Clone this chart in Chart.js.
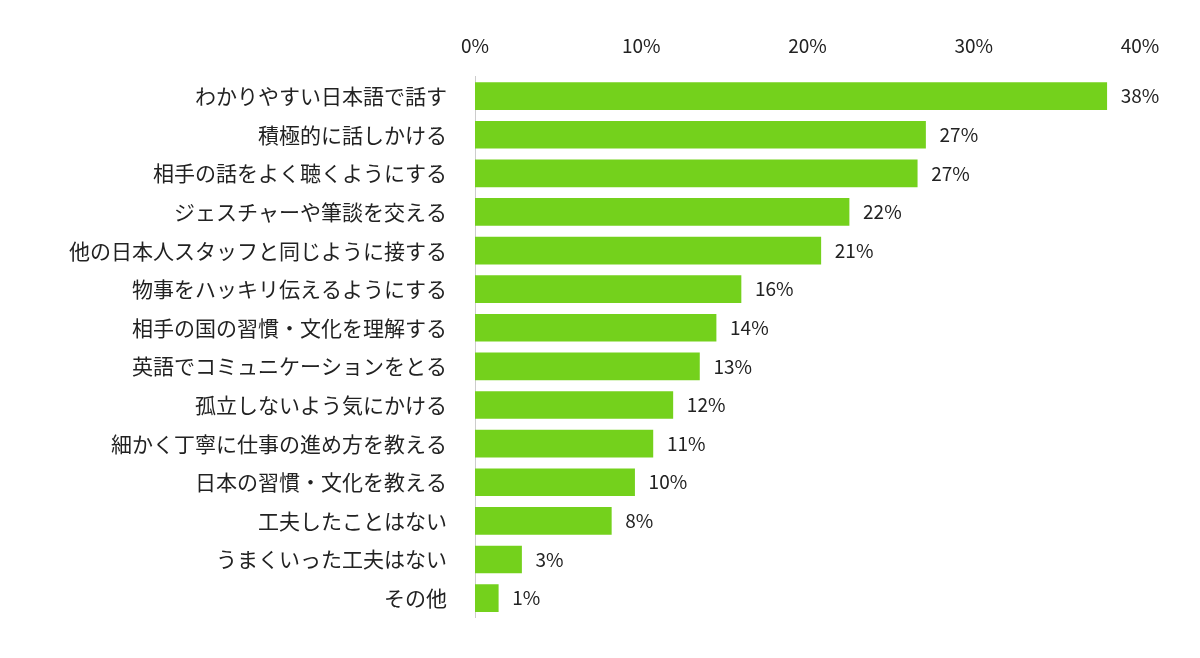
<!DOCTYPE html>
<html><head><meta charset="utf-8">
<script src="https://cdn.jsdelivr.net/npm/chart.js@4"></script>
<style>html,body{margin:0;background:#fff}#wrap{width:1200px;height:658px}</style>
</head><body><div id="wrap"><canvas id="c"></canvas></div>
<script>
const categories = ['わかりやすい日本語で話す','積極的に話しかける','相手の話をよく聴くようにする','ジェスチャーや筆談を交える','他の日本人スタッフと同じように接する','物事をハッキリ伝えるようにする','相手の国の習慣・文化を理解する','英語でコミュニケーションをとる','孤立しないよう気にかける','細かく丁寧に仕事の進め方を教える','日本の習慣・文化を教える','工夫したことはない','うまくいった工夫はない','その他'];
const values = [38.0, 27.1, 26.6, 22.5, 20.8, 16.0, 14.5, 13.5, 11.9, 10.7, 9.6, 8.2, 2.8, 1.4];
const valueLabels = ['38%','27%','27%','22%','21%','16%','14%','13%','12%','11%','10%','8%','3%','1%'];
const FONT = '"Noto Sans CJK JP", sans-serif';

const barLabels = {
    id: 'barLabels',
    afterDatasetsDraw(chart) {
        const ctx = chart.ctx;
        ctx.save();
        ctx.font = '19px ' + FONT;
        ctx.fillStyle = '#222';
        ctx.textBaseline = 'middle';
        chart.getDatasetMeta(0).data.forEach((bar, i) => {
            ctx.fillText(valueLabels[i], bar.x + 14, bar.y);
        });
        ctx.restore();
    }
};

new Chart(document.getElementById('c'), {
    type: 'bar',
    data: {
        labels: categories,
        datasets: [{
            data: values,
            backgroundColor: '#74d11c',
            barThickness: 27
        }]
    },
    options: {
        indexAxis: 'y',
        responsive: true,
        maintainAspectRatio: false,
        animation: false,
        layout: { padding: { top: 14, right: 60, bottom: 28, left: 0 } },
        plugins: { legend: { display: false }, tooltip: { enabled: false } },
        scales: {
            x: {
                position: 'top',
                min: 0, max: 40,
                ticks: { stepSize: 10, callback: v => v + '%', color: '#222', font: { size: 19, family: FONT }, padding: 20 },
                grid: { display: false, drawTicks: false },
                border: { display: false }
            },
            y: {
                afterFit: axis => { axis.width = 475; },
                ticks: { color: '#222', font: { size: 21, family: FONT }, padding: 28 },
                grid: { display: false, drawTicks: false },
                border: { color: '#ccc' }
            }
        }
    },
    plugins: [barLabels]
});
</script></body></html>
